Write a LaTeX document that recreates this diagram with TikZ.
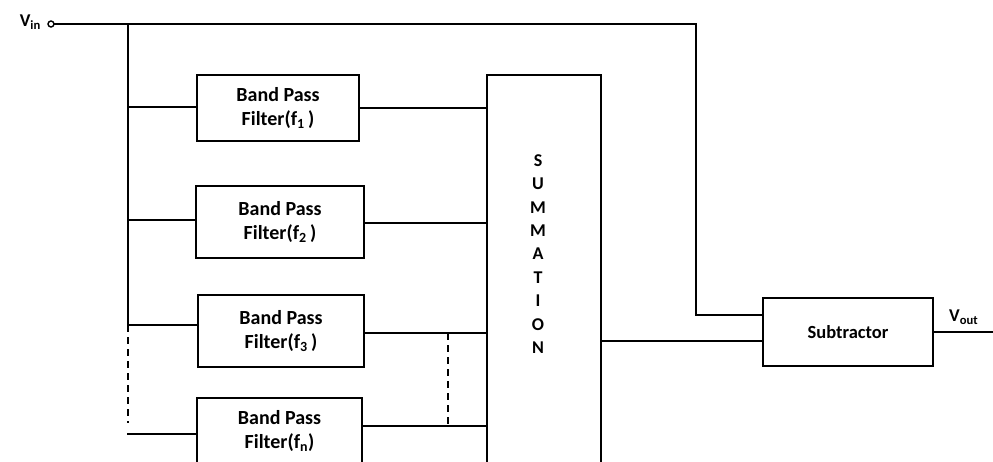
\documentclass[tikz,border=0pt]{standalone}
\usepackage{fontspec}
\setmainfont{Carlito}
\begin{document}
\begin{tikzpicture}[x=1pt,y=-1pt,line width=2.3pt,line cap=rect,
  box/.style={draw,line width=2.3pt,inner sep=0pt,align=center,
    font=\bfseries\fontsize{20}{24}\selectfont},
  lbl/.style={inner sep=0pt,font=\bfseries\fontsize{18}{20}\selectfont},
  dashline/.style={dashed,dash pattern=on 7pt off 5pt,line cap=butt}]
\useasboundingbox (0,0) rectangle (993,461);
% blocks
\node[box,minimum width=162pt,minimum height=66pt] (f1) at (278,108) {Band Pass\\Filter(f\textsubscript{1}\,)};
\node[box,minimum width=168pt,minimum height=72pt] (f2) at (280,222) {Band Pass\\Filter(f\textsubscript{2}\,)};
\node[box,minimum width=166pt,minimum height=72pt] (f3) at (281,331) {Band Pass\\Filter(f\textsubscript{3}\,)};
\node[box,minimum width=165pt,minimum height=66pt] (fn) at (279.5,431) {Band Pass\\Filter(f\textsubscript{n})};
\node[box,minimum width=114pt,minimum height=400pt] (sum) at (544,275) {};
\node[lbl,align=center,font=\bfseries\fontsize{18}{23.4}\selectfont] (sumt) at (538,254) {S\\U\\M\\M\\A\\T\\I\\O\\N};
\node[box,minimum width=170pt,minimum height=68pt,font=\bfseries\fontsize{18.5}{22}\selectfont] (sub) at (848,332) {Subtractor};
% terminals
\node[draw,circle,line width=1.4pt,inner sep=0pt,minimum size=6pt] (vin) at (51,24) {};
\node[lbl,anchor=east] (vinl) at (42,22) {V\textsubscript{in}};
\node[lbl,anchor=west] (voutl) at (948,317) {V\textsubscript{out}};
\coordinate (tr) at (696,24);
\coordinate (bt) at (128,24);
\coordinate (b1) at (128,107);
\coordinate (b2) at (128,220);
\coordinate (b3) at (128,325);
\coordinate (bn) at (128,434);
\coordinate (bd) at (128,423);
\coordinate (d3) at (448,333);
\coordinate (dn) at (448,426);
\coordinate (out) at (993,332);
% wiring
\draw (vin.east) -- (tr) |- ([yshift=17pt]sub.west);
\draw (bt) -- (b3);
\draw[dashline] (b3) -- (bd);
\draw (bn) -- (bn -| fn.west);
\draw (b1) -- (b1 -| f1.west);
\draw (b2) -- (b2 -| f2.west);
\draw (b3) -- (b3 -| f3.west);
\draw (f1.east) -- (f1.east -| sum.west);
\draw ([yshift=-1pt]f2.east) -- ([yshift=-1pt]f2.east -| sum.west);
\draw ([yshift=-2pt]f3.east) -- ([yshift=-2pt]f3.east -| sum.west);
\draw (dn -| fn.east) -- (dn -| sum.west);
\draw[dashline] (d3) -- (dn);
\draw ([yshift=-9pt]sub.west -| sum.east) -- ([yshift=-9pt]sub.west);
\draw (sub.east) -- (out);
\end{tikzpicture}
\end{document}
